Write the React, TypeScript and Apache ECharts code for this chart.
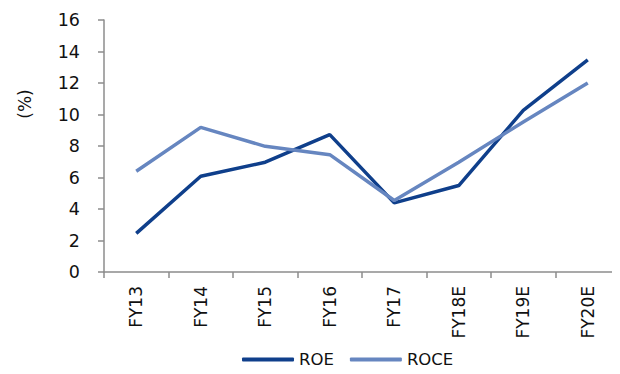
import React, { useEffect, useRef } from "react";
import * as echarts from "echarts";

const categories = ["FY13", "FY14", "FY15", "FY16", "FY17", "FY18E", "FY19E", "FY20E"];
const roe = [2.45, 6.08, 6.97, 8.72, 4.39, 5.49, 10.26, 13.47];
const roce = [6.4, 9.18, 7.98, 7.45, 4.54, 6.97, 9.52, 12.0];

const FONT = "DejaVu Sans";
const AXIS_GRAY = "#8c8c8c";

export default function App() {
  const ref = useRef<HTMLDivElement>(null);

  useEffect(() => {
    if (!ref.current) return;
    const chart = echarts.init(ref.current, undefined, { renderer: "svg" });
    chart.setOption({
      animation: false,
      backgroundColor: "#ffffff",
      grid: { left: 104, right: 0, top: 20, bottom: 102 },
      legend: {
        top: 346,
        left: 237,
        itemGap: 16,
        itemWidth: 52,
        itemHeight: 4,
        icon: "roundRect",
        textStyle: { fontFamily: FONT, fontSize: 16.5, color: "#111", padding: [0, 0, 0, 0] },
        data: ["ROE", "ROCE"],
      },
      xAxis: {
        type: "category",
        data: categories,
        boundaryGap: true,
        axisLine: { lineStyle: { color: AXIS_GRAY, width: 1.5 } },
        axisTick: { show: true, length: 6, alignWithLabel: false, lineStyle: { color: AXIS_GRAY, width: 1.5 } },
        axisLabel: { rotate: 90, margin: 14, fontFamily: FONT, fontSize: 17, color: "#111" },
        splitLine: { show: false },
      },
      yAxis: {
        type: "value",
        min: 0,
        max: 16,
        interval: 2,
        axisLine: { show: true, lineStyle: { color: AXIS_GRAY, width: 1.5 } },
        axisTick: { show: true, length: 6, lineStyle: { color: AXIS_GRAY, width: 1.5 } },
        axisLabel: { margin: 24, fontFamily: FONT, fontSize: 17.5, color: "#111" },
        splitLine: { show: false },
      },
      graphic: [
        {
          type: "text",
          x: 25,
          y: 104,
          rotation: Math.PI / 2,
          style: {
            text: "(%)",
            fontFamily: FONT,
            fontSize: 17,
            fill: "#111",
            align: "center",
            verticalAlign: "middle",
          },
        },
      ],
      series: [
        {
          name: "ROE",
          type: "line",
          data: roe,
          symbol: "none",
          lineStyle: { color: "#0f3f8b", width: 3.5 },
          itemStyle: { color: "#0f3f8b" },
        },
        {
          name: "ROCE",
          type: "line",
          data: roce,
          symbol: "none",
          lineStyle: { color: "#6686c0", width: 3.5 },
          itemStyle: { color: "#6686c0" },
        },
      ],
    });
    return () => chart.dispose();
  }, []);

  return <div ref={ref} style={{ width: 620, height: 374, margin: -8 }} />;
}
